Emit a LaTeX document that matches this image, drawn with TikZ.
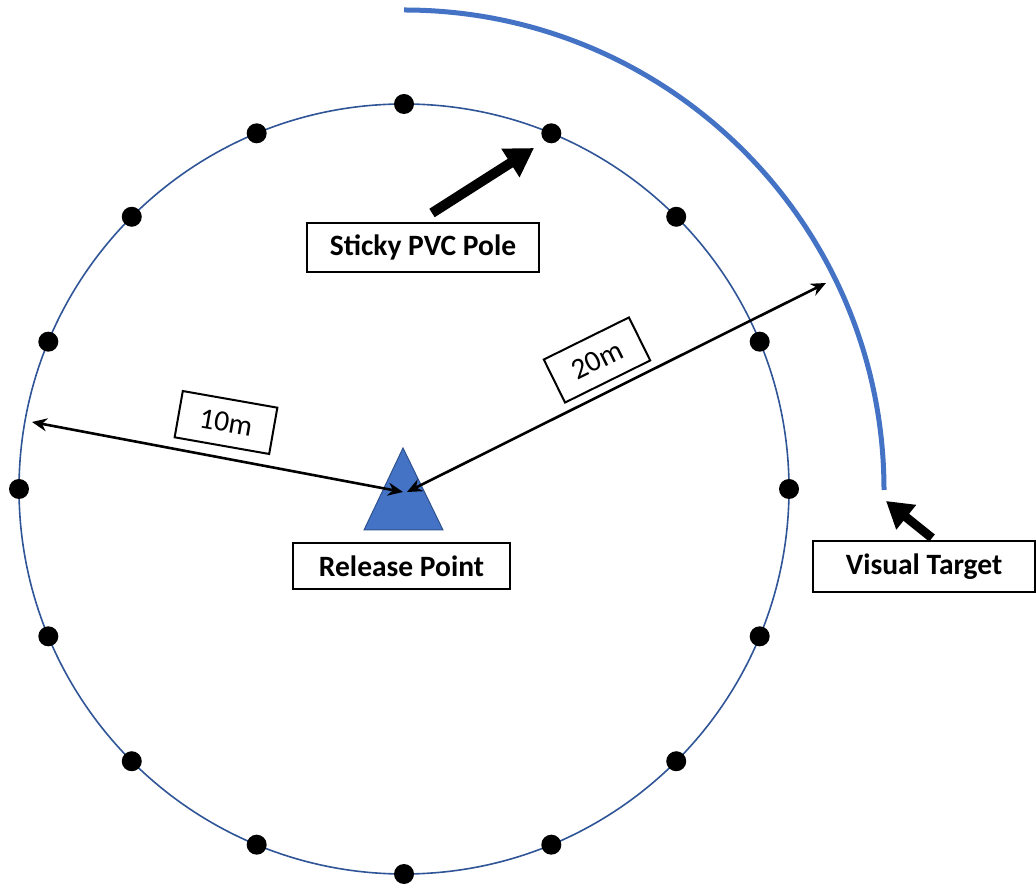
\documentclass[tikz,border=0pt]{standalone}
\usepackage{fontspec}
\setmainfont{Carlito}
\usetikzlibrary{arrows.meta,calc}
\definecolor{ringblue}{HTML}{2F5597}
\definecolor{arcblue}{HTML}{4472C4}
\definecolor{triedge}{HTML}{2F528F}
\tikzset{
  lbl/.style={draw=black, line width=2pt, fill=white, inner sep=0pt, font=\fontsize{29.5}{34}\selectfont\bfseries},
  dimlbl/.style={draw=black, line width=2pt, fill=white, inner sep=0pt, minimum width=96pt, minimum height=47pt, font=\fontsize{29.5}{34}\selectfont},
  pole/.style={circle, fill=black, inner sep=0pt, minimum size=20pt},
  dimarrow/.style={line width=2.6pt, {Stealth[length=15pt,width=13pt]}-{Stealth[length=15pt,width=13pt]}},
  bigarrow/.style={line width=10pt, -{Triangle[length=28pt,width=32pt]}},
}
\begin{document}
\begin{tikzpicture}[x=1pt,y=1pt]
\useasboundingbox (0,0) rectangle (1036,884);
% visual target arc
\draw[arcblue, line width=5pt] (404,874) arc[start angle=90, end angle=0, radius=480] coordinate (arcend);
% ring
\coordinate (c) at (404,395);
\draw[ringblue, line width=1.6pt] (c) circle[radius=385];
\foreach \i in {0,...,15}{
  \node[pole] (p\i) at ($(c)+({90-22.5*\i}:385)$) {};
}
% release point triangle
\draw[triedge, line width=1pt, fill=arcblue] (403,436) coordinate (triapex) -- (443,354) -- (364,354) -- cycle;
% labels
\node[lbl, minimum width=217pt, minimum height=46pt] (rp) at (401.5,318) {Release Point};
\node[lbl, minimum width=232pt, minimum height=49pt] (spp) at (423,636.5) {Sticky PVC Pole};
\node[lbl, minimum width=222pt, minimum height=51pt] (vt) at (924,317.5) {Visual Target};
% dimension arrows
\coordinate (t10) at (403,392);
\coordinate (t20) at (407,392);
\coordinate (e10) at (32,462);
\coordinate (e20) at (826,601);
\draw[dimarrow] (e10) -- (t10);
\draw[dimarrow] (t20) -- (e20);
\node[dimlbl, rotate=-10] (l10) at (226,461.5) {10m};
\node[dimlbl, rotate=26.3, minimum width=95pt, minimum height=48pt] (l20) at (597,524) {20m};
% pointer arrows
\coordinate (sa) at (432,671);
\coordinate (sb) at (534,736);
\draw[bigarrow] (sa) -- (sb);
\coordinate (va) at (932,346);
\coordinate (vb) at (886,383);
\draw[line width=9pt, -{Triangle[length=26pt,width=30pt]}] (va) -- (vb);
\end{tikzpicture}
\end{document}
